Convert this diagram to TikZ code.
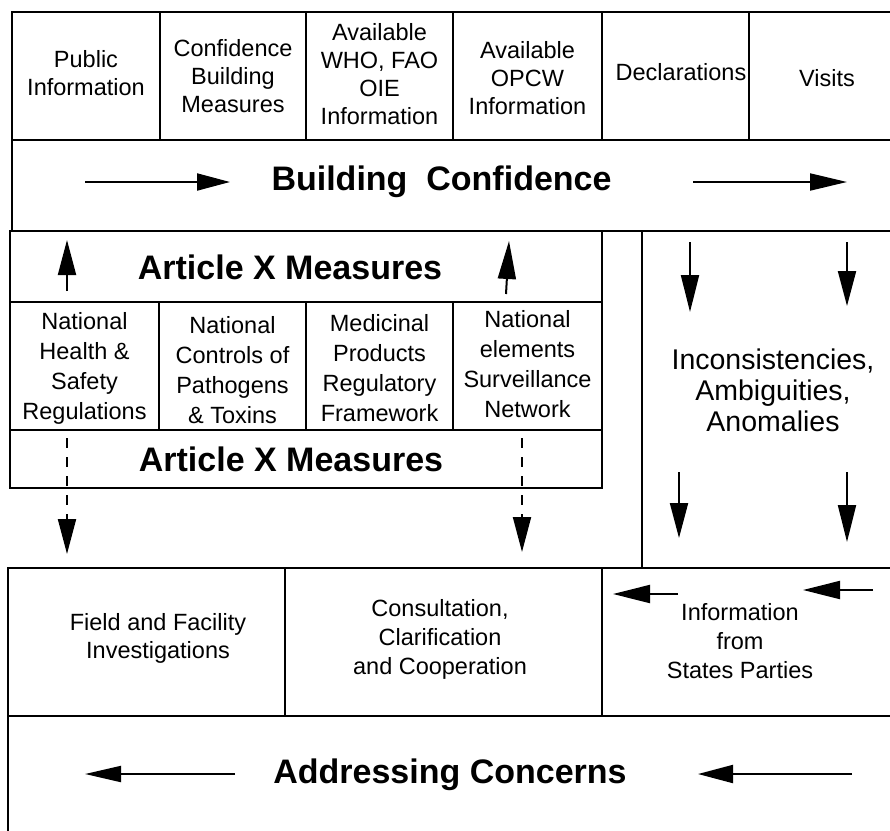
\documentclass[tikz,border=0pt]{standalone}
\usepackage{fontspec}
\setmainfont{Liberation Sans}
\usetikzlibrary{arrows.meta}
\begin{document}
\begin{tikzpicture}[x=1pt,y=-1pt,
  box/.style={draw, line width=2pt, inner sep=0pt, outer sep=0pt},
  txt/.style={align=center, inner sep=0pt, font=\fontsize{23.5}{28}\selectfont},
  subtxt/.style={align=center, inner sep=0pt, font=\fontsize{23.5}{30}\selectfont},
  lowtxt/.style={align=center, inner sep=0pt, font=\fontsize{23.5}{29}\selectfont},
  inctxt/.style={align=center, inner sep=0pt, font=\fontsize{28.5}{31}\selectfont},
  bigtxt/.style={inner sep=0pt, font=\fontsize{34}{40}\selectfont\bfseries},
  arr/.style={line width=2pt, -{Triangle[length=35pt,width=18pt]}},
  dasharr/.style={arr, dash pattern=on 10pt off 9pt},
]
\useasboundingbox (0,0) rectangle (890,830);
\begin{scope}
\clip (0,0) rectangle (890,830);
% top row
\node[box, minimum width=148pt, minimum height=128pt] (pub) at (86,76) {};
\node[box, minimum width=146pt, minimum height=128pt] (cbm) at (233,76) {};
\node[box, minimum width=147pt, minimum height=128pt] (who) at (379.5,76) {};
\node[box, minimum width=149pt, minimum height=128pt] (opcw) at (527.5,76) {};
\node[box, minimum width=147pt, minimum height=128pt] (decl) at (675.5,76) {};
\node[box, minimum width=156pt, minimum height=128pt] (vis) at (827,76) {};
% building confidence band
\node[box, minimum width=893pt, minimum height=91pt] (bc) at (458.5,185.5) {};
% article X upper
\node[box, minimum width=592pt, minimum height=71pt] (ax1) at (306,266.5) {};
% inconsistencies region
\node[box, minimum width=263pt, minimum height=337pt] (inc) at (773.5,399.5) {};
% sub row
\node[box, minimum width=149pt, minimum height=128pt] (nhs) at (84.5,366) {};
\node[box, minimum width=147pt, minimum height=128pt] (nctl) at (232.5,366) {};
\node[box, minimum width=147pt, minimum height=128pt] (med) at (379.5,366) {};
\node[box, minimum width=149pt, minimum height=128pt] (nsn) at (527.5,366) {};
% article X lower
\node[box, minimum width=592pt, minimum height=58pt] (ax2) at (306,459) {};
% bottom row
\node[box, minimum width=277pt, minimum height=148pt] (fld) at (146.5,642) {};
\node[box, minimum width=317pt, minimum height=148pt] (con) at (443.5,642) {};
\node[box, minimum width=303pt, minimum height=148pt] (inf) at (753.5,642) {};
% addressing band
\node[box, minimum width=897pt, minimum height=129pt] (addr) at (456.5,780.5) {};
\end{scope}

% texts
\node[txt] (tpub) at (86,73) {Public\\Information};
\node[txt] (tcbm) at (233,76) {Confidence\\Building\\Measures};
\node[txt] (twho) at (379.5,74) {Available\\WHO, FAO\\OIE\\Information};
\node[txt] (topcw) at (527.5,78) {Available\\OPCW\\Information};
\node[txt] (tdecl) at (681,72) {Declarations};
\node[txt] (tvis) at (827,78) {Visits};
\node[bigtxt] (tbc) at (441.5,182) {Building\ \ Confidence};
\node[bigtxt] (tax1) at (290,267) {Article X Measures};
\node[subtxt] (tnhs) at (84.5,368) {National\\Health \&\\Safety\\Regulations};
\node[subtxt] (tnctl) at (232.5,370) {National\\Controls of\\Pathogens\\\& Toxins};
\node[subtxt] (tmed) at (379.5,368) {Medicinal\\Products\\Regulatory\\Framework};
\node[subtxt] (tnsn) at (527.5,364) {National\\elements\\Surveillance\\Network};
\node[bigtxt] (tax2) at (291,459) {Article X Measures};
\node[inctxt] (tinc) at (773,390) {Inconsistencies,\\Ambiguities,\\Anomalies};
\node[lowtxt, font=\fontsize{23.5}{28}\selectfont] (tfld) at (158,638) {Field and Facility\\Investigations};
\node[lowtxt] (tcon) at (440,639) {Consultation,\\Clarification\\and Cooperation};
\node[lowtxt] (tinf) at (740,641) {Information\\from\\States Parties};
\node[bigtxt] (taddr) at (450,775) {Addressing Concerns};

% arrows
\draw[arr, -{Triangle[length=33pt,width=17pt]}] (85,182) -- (230,182);
\draw[arr, -{Triangle[length=37pt,width=17pt]}] (693,182) -- (847,182);
\draw[arr] (67,291) -- (67,240);
\draw[arr, -{Triangle[length=38pt,width=18pt]}] (506,294) -- (509,241);
\draw[arr, -{Triangle[length=37pt,width=18pt]}] (690,242) -- (690,312);
\draw[arr] (847,242) -- (847,306);
\draw[arr] (679,472) -- (679,538);
\draw[arr, -{Triangle[length=37pt,width=18pt]}] (847,472) -- (847,542);
\draw[dasharr] (67,438) -- (67,554);
\draw[dasharr] (522,438) -- (522,552);
\draw[arr, -{Triangle[length=37pt,width=18pt]}] (678,594) -- (613,594);
\draw[arr, -{Triangle[length=37pt,width=18pt]}] (873,590) -- (803,590);
\draw[arr, -{Triangle[length=36pt,width=16pt]}] (235,774) -- (85,774);
\draw[arr] (852,774) -- (698,774);
\end{tikzpicture}
\end{document}
